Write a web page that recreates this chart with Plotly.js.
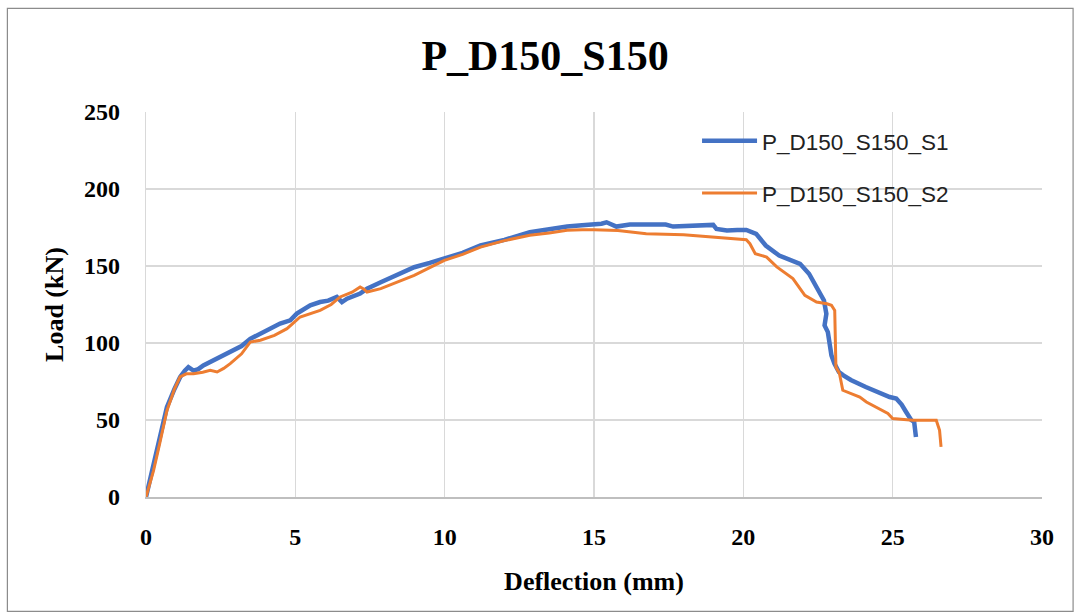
<!DOCTYPE html>
<html>
<head>
<meta charset="utf-8">
<script src="https://cdn.plot.ly/plotly-3.0.1.min.js"></script>
<style>html,body{margin:0;padding:0;background:#fff;}#chart{width:1074px;height:613px;}</style>
</head>
<body>
<div id="chart"></div>
<script>
var chartTitle = "P_D150_S150";
var xTitle = "Deflection (mm)";
var yTitle = "Load (kN)";
var s1Name = "P_D150_S150_S1";
var s2Name = "P_D150_S150_S2";

var s1X = [0, 0.25, 0.45, 0.70, 0.95, 1.14, 1.30, 1.42, 1.59, 1.75, 1.92, 2.3, 2.82, 3.2, 3.49, 3.83, 4.2, 4.49, 4.83, 5.05, 5.5, 5.83, 6.1, 6.39, 6.56, 6.73, 7.17, 7.4, 7.86, 8.4, 8.98, 9.5, 9.99, 10.6, 11.2, 12.0, 12.85, 13.5, 14.1, 14.6, 15.0, 15.25, 15.42, 15.6, 15.75, 16.2, 16.9, 17.4, 17.65, 18.2, 18.99, 19.1, 19.45, 19.8, 20.1, 20.43, 20.75, 21.2, 21.5, 21.78, 21.9, 22.2, 22.44, 22.55, 22.7, 22.78, 22.72, 22.83, 22.89, 22.95, 23.05, 23.2, 23.35, 23.6, 24.1, 24.5, 24.9, 25.12, 25.3, 25.45, 25.62, 25.72, 25.78];
var s1Y = [0, 21.6, 37, 58.3, 70, 77.8, 82, 84.3, 82.1, 83, 85.4, 89, 94, 98, 102.7, 106.1, 109, 112.6, 114.7, 119.1, 124.5, 126.6, 127.5, 129.9, 126.6, 128.8, 132.1, 135.3, 139.5, 144, 149.2, 152, 154.6, 158.5, 163.3, 167, 171.9, 174, 175.6, 176.5, 176.9, 177.5, 178.4, 177, 175.6, 176.9, 176.9, 176.9, 175.6, 176, 176.7, 174.1, 173, 173.4, 173.4, 170.9, 163.3, 156.8, 154.5, 153.1, 151.4, 145, 136.3, 132, 127.6, 119, 111.4, 107.1, 97.4, 92, 86.6, 81.2, 79, 76, 71.4, 68, 64.9, 63.9, 60, 55.2, 50, 48.7, 39];

var s2X = [0, 0.25, 0.45, 0.70, 0.95, 1.14, 1.35, 1.59, 1.9, 2.15, 2.38, 2.6, 2.82, 3.2, 3.49, 3.83, 4.3, 4.72, 5.16, 5.5, 5.83, 6.2, 6.5, 6.9, 7.17, 7.3, 7.4, 7.86, 8.4, 8.98, 9.5, 9.99, 10.6, 11.2, 12.0, 12.85, 13.5, 14.1, 14.6, 15.0, 15.8, 16.75, 18.0, 19.45, 20.1, 20.22, 20.4, 20.78, 21.12, 21.66, 22.06, 22.45, 22.8, 22.95, 23.06, 23.1, 23.22, 23.33, 23.9, 24.12, 24.34, 24.84, 25.0, 25.67, 26.46, 26.57, 26.62];
var s2Y = [0, 17, 34, 56, 70, 78, 80, 80.1, 81, 82.3, 81.2, 83.5, 86.6, 93, 100.6, 101.8, 105, 109.3, 116.9, 119, 121.2, 125, 129.9, 133, 136.4, 135, 133.1, 135.3, 139.5, 143.9, 149, 153.7, 157.5, 162.3, 166.5, 169.9, 171.5, 173.2, 173.5, 173.6, 173, 171, 170.3, 168.2, 167, 164.5, 158, 155.8, 149.4, 141.8, 131, 126.6, 125.5, 124.5, 121.2, 84.4, 80.1, 69.3, 64.9, 61.7, 59.5, 54.2, 50.9, 49.8, 49.8, 43.3, 32.5];

var xTicks = [0, 5, 10, 15, 20, 25, 30];
var yTicks = [0, 50, 100, 150, 200, 250];

var serif = "Liberation Serif, Times New Roman, serif";
var traces = [
  {x: s1X, y: s1Y, name: s1Name, type: "scatter", mode: "lines", legendgroup: "a",
   line: {color: "#4472C4", width: 4.5}},
  {x: s2X, y: s2Y, name: s2Name, type: "scatter", mode: "lines", legendgroup: "b",
   line: {color: "#ED7D31", width: 3}}
];
var layout = {
  width: 1074, height: 613, autosize: false,
  margin: {l: 146, r: 32, t: 112, b: 116},
  paper_bgcolor: "#ffffff", plot_bgcolor: "#ffffff",
  title: {text: "<b>" + chartTitle + "</b>", font: {family: serif, size: 42, color: "#000"},
          x: 0.5075, xref: "container", y: 0.91, yref: "container", yanchor: "middle"},
  xaxis: {range: [0, 30], tickvals: xTicks, ticktext: xTicks.map(String),
          showgrid: true, gridcolor: "#d9d9d9", gridwidth: 1.3,
          zeroline: false, showline: true, linecolor: "#bfbfbf", linewidth: 1.5,
          ticks: "", ticklabelstandoff: 18,
          tickfont: {family: serif, size: 24, color: "#000", weight: "bold"},
          title: {text: "<b>" + xTitle + "</b>", font: {family: serif, size: 26, color: "#000"}, standoff: 22}},
  yaxis: {range: [0, 250], tickvals: yTicks, ticktext: yTicks.map(String),
          showgrid: true, gridcolor: "#d9d9d9", gridwidth: 1.3,
          zeroline: false, showline: true, linecolor: "#d9d9d9", linewidth: 1.3,
          ticks: "", ticklabelstandoff: 20,
          tickfont: {family: serif, size: 24, color: "#000", weight: "bold"},
          title: {text: "<b>" + yTitle + "</b>", font: {family: serif, size: 26, color: "#000"}, standoff: 12}},
  showlegend: true,
  legend: {x: 0.615, y: 0.98, xanchor: "left", yanchor: "top", bgcolor: "rgba(0,0,0,0)",
           traceorder: "grouped", tracegroupgap: 20, itemwidth: 55,
           font: {family: "Liberation Sans, Arial, sans-serif", size: 22.5, color: "#222"}},
  shapes: [{type: "rect", xref: "paper", yref: "paper", x0: -0.1547, x1: 1.0347, y0: -0.297, y1: 1.269,
            line: {color: "#8c8c8c", width: 1.2}, fillcolor: "rgba(0,0,0,0)", layer: "below"}]
};
Plotly.newPlot("chart", traces, layout, {staticPlot: true, displayModeBar: false});
</script>
</body>
</html>
